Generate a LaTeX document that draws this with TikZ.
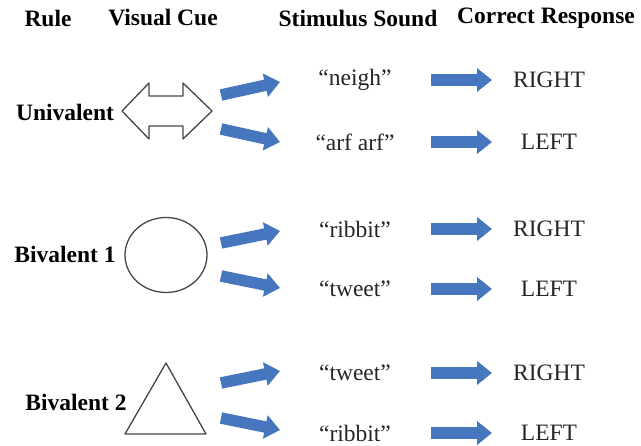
\documentclass[tikz,border=0pt]{standalone}
\usepackage{fontspec}
\setmainfont{Liberation Serif}
\usetikzlibrary{arrows.meta}
\definecolor{cueblue}{RGB}{70,118,190}
\definecolor{cueedge}{RGB}{50,88,150}
\definecolor{shapegray}{RGB}{70,70,70}
\tikzset{
  head/.style={font=\fontsize{23.5}{25}\selectfont\bfseries},
  rulelab/.style={font=\fontsize{23.5}{25}\selectfont\bfseries},
  word/.style={font=\fontsize{23.5}{25}\selectfont, text=black!85},
  cue/.style={draw=shapegray,line width=1.3pt,line join=round},
  bluearr/.style={draw=cueblue,line width=11.5pt,-{Triangle[length=15pt,width=23pt]}}
}
\begin{document}
\begin{tikzpicture}[x=1pt,y=-1pt,line join=round]
			\useasboundingbox (0,0) rectangle (641,446);
			% headers
			\node[head] (hrule) at (48,18) {Rule};
			\node[head] (hcue) at (163,18) {Visual Cue};
			\node[head] (hsound) at (358,18) {Stimulus Sound};
			\node[head] (hresp) at (546,18) {Correct Response};
			% rules
			\node[rulelab] (uni) at (65,112) {Univalent};
			\node[rulelab] (bia) at (65,254) {Bivalent 1};
			\node[rulelab] (bib) at (76,402) {Bivalent 2};
			% visual cues
			\draw[cue] (122,111)--(149,83)--(149,96)--(183,96)--(183,83)--(212,111)--(183,139)--(183,126)--(149,126)--(149,139)--cycle;
			\draw[cue] (166,255) ellipse (41 and 37.5);
			\draw[cue] (166,363)--(206,434)--(125,434)--cycle;
			% sounds and responses
			\foreach \y/\s/\r/\n in {80/neigh/RIGHT/a,142/arf arf/LEFT/b,229/ribbit/RIGHT/c,289/tweet/LEFT/d,373/tweet/RIGHT/e,433/ribbit/LEFT/f}{
				\node[word] (snd\n) at (355,\y) {``\s''};
				\node[word] (rsp\n) at (549,\y) {\r};
				\coordinate (hs\n) at (431,\y);
				\coordinate (he\n) at (492,\y);
				\draw[bluearr] (hs\n) -- (he\n);
			}
			% slanted arrows from the cues
			\foreach \n/\ya/\yb in {a/95/82,b/129/142,c/243/231,d/276/288,e/383/371,f/418/430}{
				\coordinate (cs\n) at (221,\ya);
				\coordinate (ce\n) at (280,\yb);
				\draw[bluearr] (cs\n) -- (ce\n);
			}
		\end{tikzpicture}
\end{document}
